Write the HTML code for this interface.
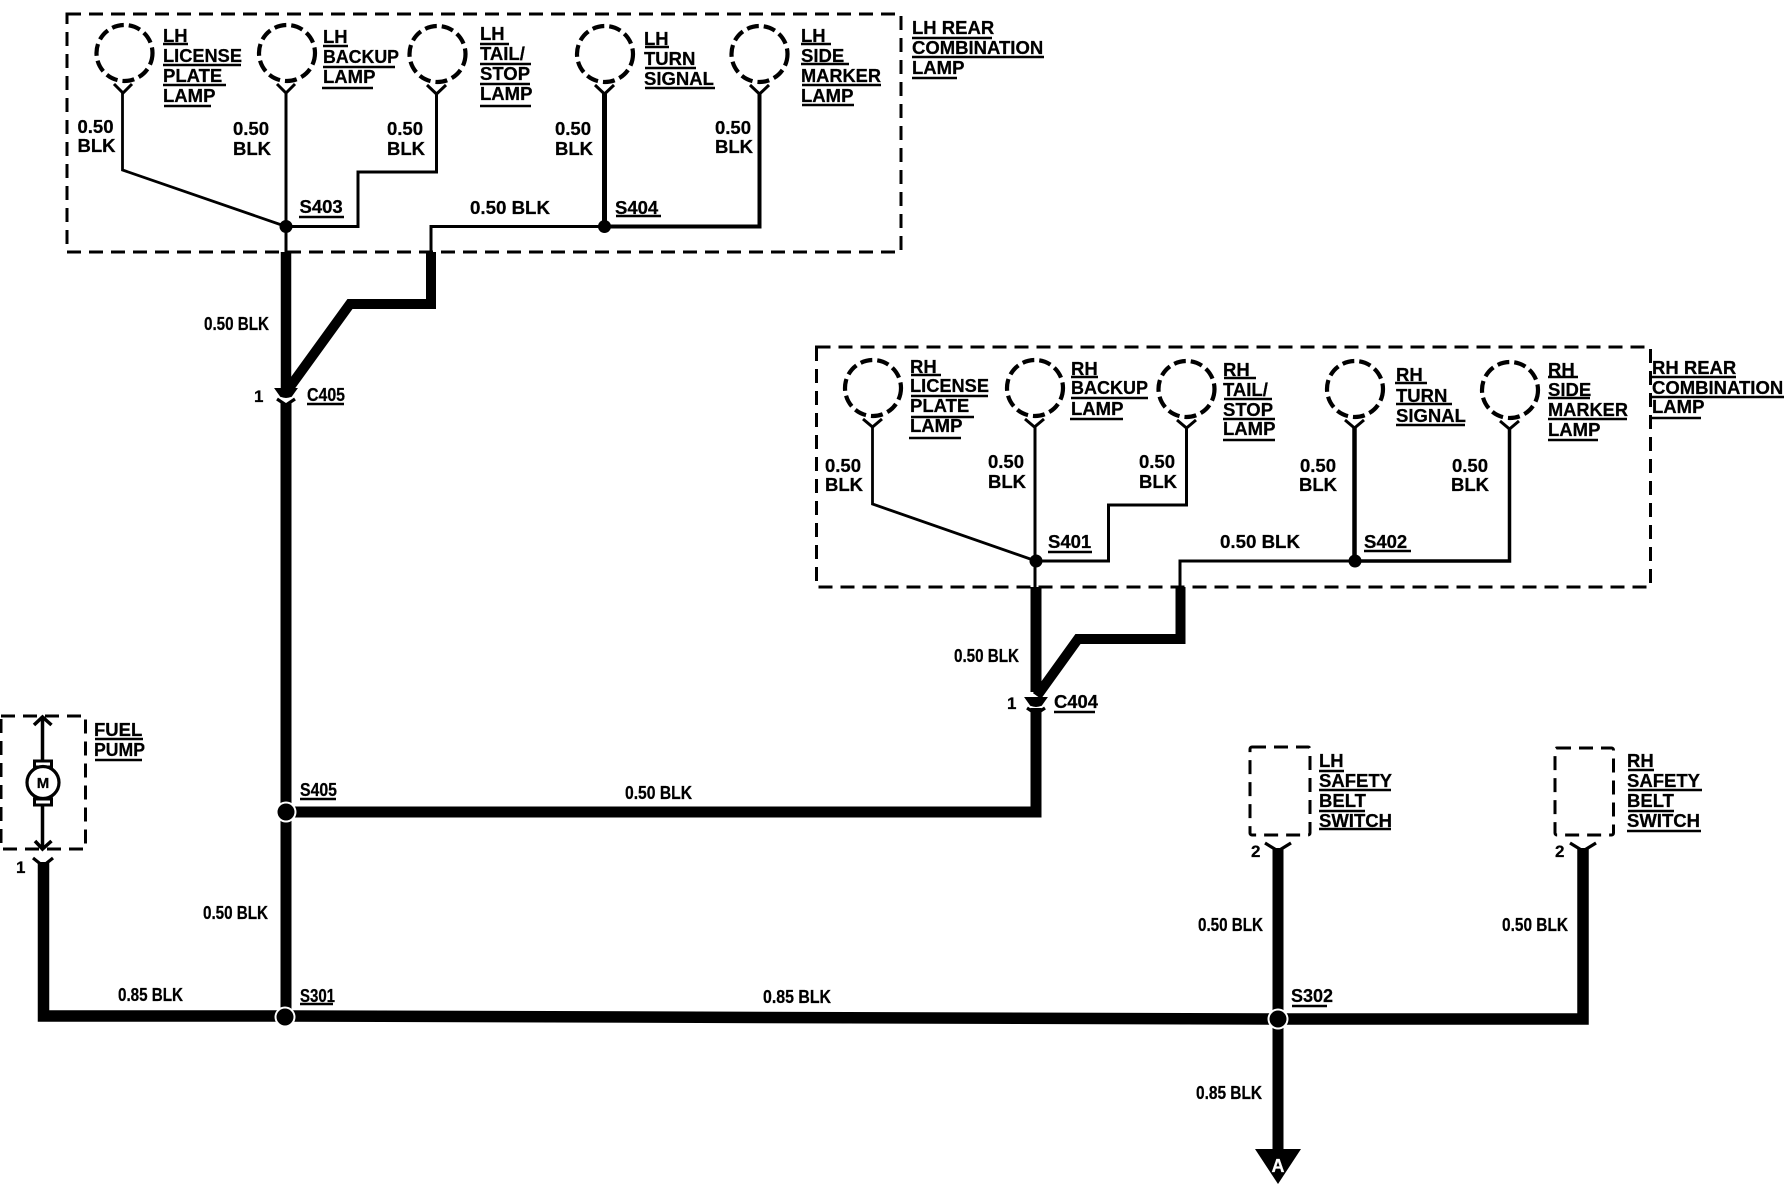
<!DOCTYPE html>
<html>
<head>
<meta charset="utf-8">
<title>Ground wiring diagram</title>
<style>
html,body{margin:0;padding:0;background:#fff;}
svg{display:block;}
text{font-family:"Liberation Sans",sans-serif;font-weight:bold;font-size:18.5px;fill:#000;stroke:#000;stroke-width:.25;}
.c{font-size:18px;}
.w{font-size:18.7px;}
.ul{fill:none;stroke:#000;stroke-width:2.6;}
.box{fill:none;stroke:#000;stroke-width:3;stroke-dasharray:14 8;}
.lamp{fill:none;stroke:#000;stroke-width:4.2;stroke-dasharray:12 5;}
.n{fill:none;stroke:#000;stroke-linejoin:miter;}
</style>
</head>
<body>
<svg xmlns="http://www.w3.org/2000/svg" width="1784" height="1184" viewBox="0 0 1784 1184">
<rect width="1784" height="1184" fill="#fff"/>

<!-- LH combination -->
<rect class="box" x="67" y="14" width="834" height="238"/>
<circle class="lamp" cx="124.5" cy="53" r="28"/>
<circle class="lamp" cx="287" cy="53" r="28"/>
<circle class="lamp" cx="437.5" cy="54" r="28"/>
<circle class="lamp" cx="605" cy="54" r="28"/>
<circle class="lamp" cx="759.5" cy="54" r="28"/>
<path class="n" stroke-width="3" d="M114 84l9 9 9-9M277 84l9 9 9-9M427 85l9.500 9 9.500-9M595 85l9.500 9 9.500-9M750 85l9.500 9 9.500-9"/>
<path class="n" stroke-width="2.800" d="M122.500 93V170L286 226.500"/>
<path class="n" stroke-width="3" d="M286 93V252M286 226.500H358V172H436.500V93"/>
<path class="n" stroke-width="3" d="M431 252V226.500H605"/>
<path class="n" stroke-width="5" d="M604.500 93V226"/>
<path class="n" stroke-width="4" d="M605 226.500H759.500V93"/>
<circle cx="286" cy="226.500" r="6.500"/>
<circle cx="604.500" cy="226.500" r="6.500"/>

<!-- RH combination -->
<rect class="box" x="816.500" y="347" width="834" height="240"/>
<circle class="lamp" cx="873" cy="388" r="28"/>
<circle class="lamp" cx="1035" cy="388" r="28"/>
<circle class="lamp" cx="1186.500" cy="389" r="28"/>
<circle class="lamp" cx="1355" cy="389" r="28"/>
<circle class="lamp" cx="1510" cy="390" r="28"/>
<path class="n" stroke-width="3" d="M863 419l9.500 8 9.500-8M1025 419l9.500 8 9.500-8M1177 420l9.500 8 9.500-8M1345 420l9.500 8 9.500-8M1500 421l9.500 8 9.500-8"/>
<path class="n" stroke-width="2.800" d="M872.500 427V504L1036 561"/>
<path class="n" stroke-width="3" d="M1035 427V587M1036 561H1108.500V505H1186.500V427"/>
<path class="n" stroke-width="3" d="M1180 587V561H1355"/>
<path class="n" stroke-width="4.500" d="M1354.500 427V561"/>
<path class="n" stroke-width="3.500" d="M1355 561H1509.500V427"/>
<circle cx="1036" cy="561" r="6.500"/>
<circle cx="1355" cy="561" r="6.500"/>

<!-- thick wires -->
<path class="n" stroke-width="10.500" d="M286 252V392"/>
<path class="n" stroke-width="10" d="M431 252V304H350L287 391"/>
<path class="n" stroke-width="11" d="M286 403V1017"/>
<path class="n" stroke-width="11" d="M1036 587V692"/>
<path class="n" stroke-width="10" d="M1180.500 587V639H1078L1037 696"/>
<path class="n" stroke-width="11" d="M1036 708V812H286"/>
<path class="n" stroke-width="11.500" d="M43.500 862V1016H286L1278 1019H1583V848"/>
<path class="n" stroke-width="11" d="M1278 848V1152"/>
<polygon points="1255,1149 1301,1149 1278,1184"/>

<!-- C405 / C404 connectors -->
<path fill="#000" stroke="#000" stroke-width="2" d="M276 389H296L291 396Q286 398 281 396Z"/>
<path class="n" stroke-width="3.200" d="M277 399L286 405 295 399"/>
<path fill="#000" stroke="#000" stroke-width="2" d="M1026 698H1046L1041 705Q1036 707 1031 705Z"/>
<path class="n" stroke-width="3.200" d="M1027 708L1036 714 1045 708"/>

<!-- Splice dots with white ring -->
<circle cx="286" cy="812" r="10.500" fill="#fff"/><circle cx="286" cy="812" r="8.500"/>
<circle cx="285" cy="1017" r="10.500" fill="#fff"/><circle cx="285" cy="1017" r="8.500"/>
<circle cx="1278" cy="1019" r="10.500" fill="#fff"/><circle cx="1278" cy="1019" r="8.500"/>

<!-- Fuel pump -->
<rect class="box" x="1" y="716" width="84.500" height="133"/>
<path class="n" stroke-width="3.500" d="M42.500 716V760M42.500 805V849M34 725l8.500-8 9 8M35 841l7.500 8 9-8"/>
<rect x="34.500" y="761" width="17" height="6" fill="#fff" stroke="#000" stroke-width="3"/>
<rect x="34.500" y="799" width="17" height="6" fill="#fff" stroke="#000" stroke-width="3"/>
<circle cx="43" cy="782.500" r="16" fill="#fff" stroke="#000" stroke-width="3.200"/>
<text x="43" y="788" text-anchor="middle" style="font-size:15px">M</text>
<path class="n" stroke-width="3.200" d="M33 858l10 8 10-8M1265 843l13 8 13-8M1570 843l13 8 13-8"/>

<!-- Safety belt switches -->
<rect class="box" x="1250" y="747" width="60" height="88" rx="2"/>
<rect class="box" x="1555" y="748" width="58.500" height="87" rx="2"/>

<!-- underlines -->
<path class="ul" d="M163 44H188M163 65H241M163 85H226M164 106H211
M323 46H348M323 67H395M322 88H373
M480 44H509M480 64H531M480 84H530M480 106H531
M645 47H669M645 68H696M645 88H715
M801 44H831M801 64H849M802 85H881M802 105H854
M912 38H992M912 57H1044M912 78H957
M299 217H344M616 216H661M307 404H344
M911 375H941M911 396H988M911 417H974M909 438H961
M1071 377H1098M1071 398H1148M1070 419H1123
M1224 378H1256M1224 399H1272M1223 419H1275M1223 440H1275
M1395 383H1427M1396 404H1452M1396 425H1465
M1548 377H1578M1548 398H1590M1548 419H1627M1548 440H1598
M1652 377H1736M1652 397H1784M1652 418H1701
M1048 552H1092M1364 551H1411M1054 712H1095
M95 739H143M95 760H142M300 799H336M300 1004H333M1292 1006H1327
M1319 771H1344M1319 790H1391M1319 811H1365M1319 829H1391
M1628 770H1654M1628 790H1702M1628 811H1674M1627 831H1701"/>

<!-- LH labels -->
<text x="163" y="42">LH</text><text x="163" y="62" textLength="79" lengthAdjust="spacingAndGlyphs">LICENSE</text><text x="163" y="82">PLATE</text><text x="163" y="102">LAMP</text>
<text x="323" y="43">LH</text><text x="323" y="63" textLength="76" lengthAdjust="spacingAndGlyphs">BACKUP</text><text x="323" y="83">LAMP</text>
<text x="480" y="40">LH</text><text x="480" y="60">TAIL/</text><text x="480" y="80">STOP</text><text x="480" y="100">LAMP</text>
<text x="644" y="45">LH</text><text x="644" y="65">TURN</text><text x="644" y="85">SIGNAL</text>
<text x="801" y="42">LH</text><text x="801" y="62">SIDE</text><text x="801" y="82" textLength="80" lengthAdjust="spacingAndGlyphs">MARKER</text><text x="801" y="102">LAMP</text>
<text x="912" y="34">LH REAR</text><text x="912" y="54">COMBINATION</text><text x="912" y="74">LAMP</text>
<text x="77.500" y="133">0.50</text><text x="77.500" y="152">BLK</text>
<text x="233" y="135">0.50</text><text x="233" y="155">BLK</text>
<text x="387" y="135">0.50</text><text x="387" y="155">BLK</text>
<text x="555" y="135">0.50</text><text x="555" y="155">BLK</text>
<text x="715" y="134">0.50</text><text x="715" y="153">BLK</text>
<text x="299.500" y="213">S403</text>
<text class="w" x="470" y="214">0.50 BLK</text>
<text x="615" y="214">S404</text>
<text class="c" x="204" y="330" textLength="65" lengthAdjust="spacingAndGlyphs">0.50 BLK</text>
<text x="254" y="402" style="font-size:17px">1</text>
<text class="c" x="307" y="401" textLength="38" lengthAdjust="spacingAndGlyphs">C405</text>

<!-- RH labels -->
<text x="910" y="373">RH</text><text x="910" y="392" textLength="79" lengthAdjust="spacingAndGlyphs">LICENSE</text><text x="910" y="412">PLATE</text><text x="910" y="432">LAMP</text>
<text x="1071" y="375">RH</text><text x="1071" y="394" textLength="77" lengthAdjust="spacingAndGlyphs">BACKUP</text><text x="1071" y="415">LAMP</text>
<text x="1223" y="376">RH</text><text x="1223" y="396">TAIL/</text><text x="1223" y="416">STOP</text><text x="1223" y="435">LAMP</text>
<text x="1396" y="381">RH</text><text x="1396" y="402">TURN</text><text x="1396" y="422">SIGNAL</text>
<text x="1548" y="376">RH</text><text x="1548" y="396">SIDE</text><text x="1548" y="416" textLength="80" lengthAdjust="spacingAndGlyphs">MARKER</text><text x="1548" y="436">LAMP</text>
<text x="1652" y="374">RH REAR</text><text x="1652" y="394">COMBINATION</text><text x="1652" y="413">LAMP</text>
<text x="825" y="472">0.50</text><text x="825" y="491">BLK</text>
<text x="988" y="468">0.50</text><text x="988" y="488">BLK</text>
<text x="1139" y="468">0.50</text><text x="1139" y="488">BLK</text>
<text x="1300" y="472">0.50</text><text x="1299" y="491">BLK</text>
<text x="1452" y="472">0.50</text><text x="1451" y="491">BLK</text>
<text x="1048" y="548">S401</text>
<text class="w" x="1220" y="548">0.50 BLK</text>
<text x="1364" y="548">S402</text>
<text class="c" x="954" y="662" textLength="65" lengthAdjust="spacingAndGlyphs">0.50 BLK</text>
<text x="1007" y="709" style="font-size:17px">1</text>
<text x="1054" y="708" textLength="44" lengthAdjust="spacingAndGlyphs">C404</text>

<!-- Lower labels -->
<text x="94" y="736">FUEL</text><text x="94" y="756" textLength="51" lengthAdjust="spacingAndGlyphs">PUMP</text>
<text x="16" y="873" style="font-size:17px">1</text>
<text class="c" x="300" y="796" textLength="37" lengthAdjust="spacingAndGlyphs">S405</text>
<text class="c" x="625" y="799" textLength="67" lengthAdjust="spacingAndGlyphs">0.50 BLK</text>
<text class="c" x="203" y="919" textLength="65" lengthAdjust="spacingAndGlyphs">0.50 BLK</text>
<text class="c" x="118" y="1001" textLength="65" lengthAdjust="spacingAndGlyphs">0.85 BLK</text>
<text class="c" x="300" y="1002" textLength="35" lengthAdjust="spacingAndGlyphs">S301</text>
<text class="c" x="763" y="1003" textLength="68" lengthAdjust="spacingAndGlyphs">0.85 BLK</text>
<text x="1291" y="1002" textLength="42" lengthAdjust="spacingAndGlyphs">S302</text>
<text x="1319" y="767">LH</text><text x="1319" y="787">SAFETY</text><text x="1319" y="807">BELT</text><text x="1319" y="827">SWITCH</text>
<text x="1627" y="767">RH</text><text x="1627" y="787">SAFETY</text><text x="1627" y="807">BELT</text><text x="1627" y="827">SWITCH</text>
<text x="1251" y="857" style="font-size:17px">2</text>
<text x="1555" y="857" style="font-size:17px">2</text>
<text class="c" x="1198" y="931" textLength="65" lengthAdjust="spacingAndGlyphs">0.50 BLK</text>
<text class="c" x="1502" y="931" textLength="66" lengthAdjust="spacingAndGlyphs">0.50 BLK</text>
<text class="c" x="1196" y="1099" textLength="66" lengthAdjust="spacingAndGlyphs">0.85 BLK</text>
<text x="1278" y="1172" text-anchor="middle" style="fill:#fff;stroke:#fff;font-size:18px">A</text>
</svg>
</body>
</html>
